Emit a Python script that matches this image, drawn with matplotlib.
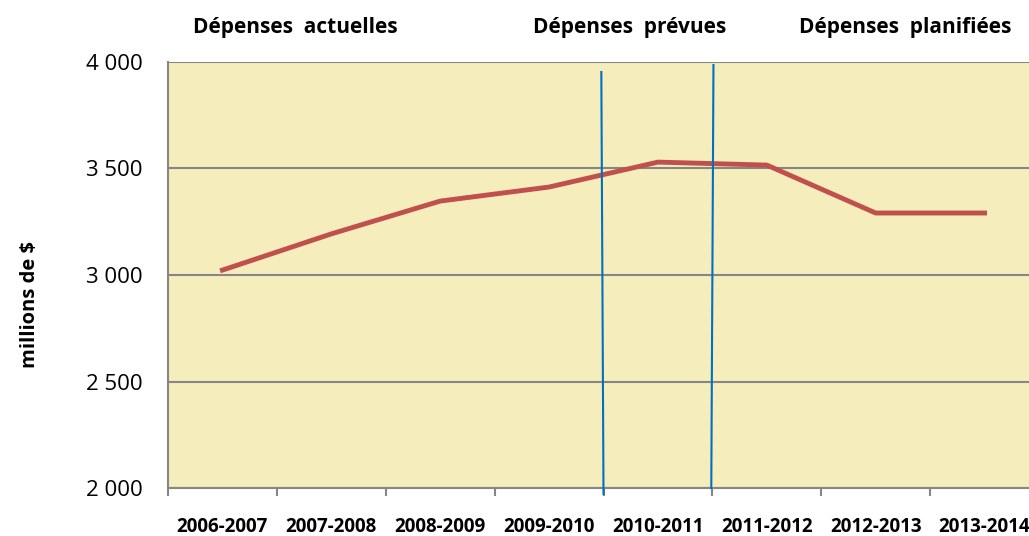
import matplotlib
matplotlib.use("Agg")
import matplotlib.pyplot as plt
from matplotlib.ticker import FuncFormatter

years = ['2006-2007', '2007-2008', '2008-2009', '2009-2010',
         '2010-2011', '2011-2012', '2012-2013', '2013-2014']
spending = [3023, 3193, 3347, 3413, 3530, 3516, 3291, 3291]
section_titles = ['Dépenses  actuelles', 'Dépenses  prévues', 'Dépenses  planifiées']
# separator lines (x in category units, y in millions)
sep1_x = [3.48, 3.50]
sep1_y = [3953, 1972]
sep2_x = [4.51, 4.49]
sep2_y = [3986, 2000]

plt.rcParams['font.family'] = ['Open Sans', 'DejaVu Sans']

fig = plt.figure(figsize=(10.29, 5.36), dpi=100)
ax = fig.add_axes([168 / 1029, 1 - 488 / 536, 871 / 1029, 426 / 536])
ax.set_facecolor('#F5EDBB')

ax.plot(range(len(years)), spending, color='#C0504D', lw=3.5, zorder=3)
ax.plot(sep1_x, sep1_y, color='#0070C0', lw=1.5, clip_on=False, zorder=4)
ax.plot(sep2_x, sep2_y, color='#0070C0', lw=1.5, clip_on=False, zorder=4)

ax.set_xlim(-0.5, 7.5)
ax.set_ylim(2000, 4000)
ax.set_yticks([2000, 2500, 3000, 3500, 4000])
ax.yaxis.set_major_formatter(FuncFormatter(lambda v, p: f"{int(v):,}".replace(',', ' ')))
ax.grid(axis='y', color='#868686', lw=1.5)
ax.set_axisbelow(True)

ax.set_xticks(range(len(years)))
ax.set_xticklabels(years, fontsize=13.5, fontweight='bold')
ax.set_xticks([i - 0.5 for i in range(len(years) + 1)], minor=True)
ax.tick_params(axis='x', which='major', length=0, pad=21)
ax.tick_params(axis='x', which='minor', length=6, width=1.5, color='#868686', direction='out')
ax.tick_params(axis='y', length=0, labelsize=16, pad=18)

for s in ['top', 'right']:
    ax.spines[s].set_visible(False)
for s in ['left', 'bottom']:
    ax.spines[s].set_color('#868686')
    ax.spines[s].set_linewidth(1.5)

ax.set_ylabel('millions de $', fontsize=14.5, fontweight='bold', va='center')
ax.yaxis.set_label_coords(-0.158, 0.43)

for title, xc in zip(section_titles, [295, 630, 905]):
    fig.text(xc / 1029, 1 - 28 / 536, title, fontsize=15, fontweight='bold',
             ha='center', va='center')

fig.savefig('out.png', dpi=100)
